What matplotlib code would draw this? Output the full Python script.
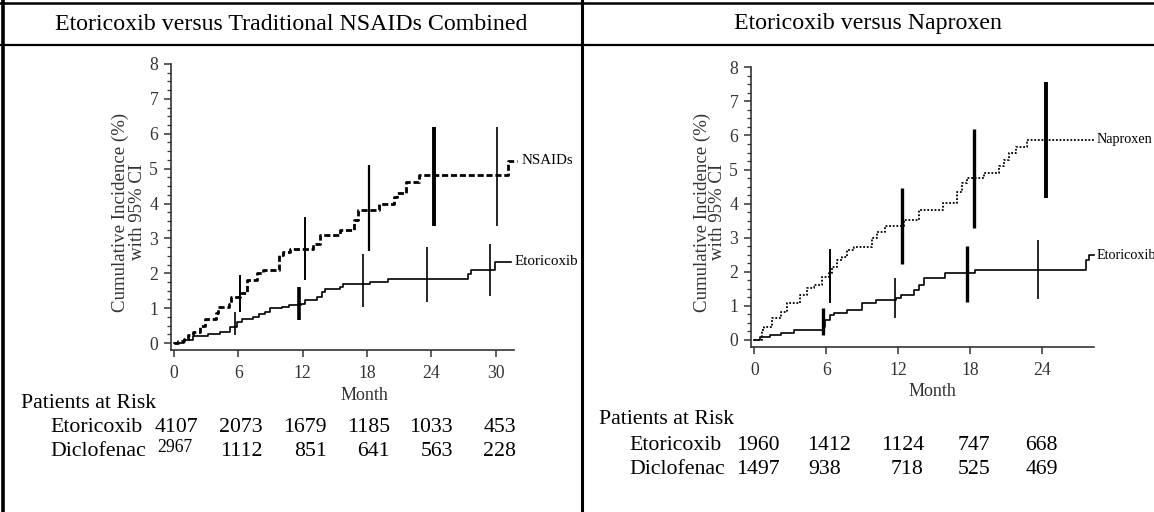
import matplotlib
matplotlib.use("Agg")
import matplotlib.pyplot as plt
from matplotlib.lines import Line2D
from matplotlib.ticker import MultipleLocator

plt.rcParams['font.family'] = ['Liberation Serif', 'DejaVu Serif']

W, H = 1154, 512

# ---------------- data ----------------
panel_titles = ["Etoricoxib versus Traditional NSAIDs Combined", "Etoricoxib versus Naproxen"]
y_label_lines = ["Cumulative Incidence (%)", "with 95% CI"]
x_label = "Month"

left_xticks = [0, 6, 12, 18, 24, 30]
right_xticks = [0, 6, 12, 18, 24]
yticks = [0, 1, 2, 3, 4, 5, 6, 7, 8]

# Left panel: NSAIDs combined (dashed)
nsaid_t = [0, 0.4, 0.9, 1.3, 1.8, 2.4, 2.9, 3.9, 4.1, 5.1, 5.3, 6.2, 6.8, 7.7, 8.3, 9.75, 10.2, 10.8,
           13.0, 13.6, 15.5, 16.8, 17.2, 19.1, 20.5, 20.8, 21.6, 22.8, 31.1, 32.0]
nsaid_v = [0, 0.05, 0.12, 0.22, 0.32, 0.48, 0.70, 0.85, 1.03, 1.13, 1.32, 1.42, 1.80, 2.00, 2.09, 2.52, 2.61, 2.70,
           2.83, 3.09, 3.25, 3.52, 3.81, 3.98, 4.19, 4.29, 4.62, 4.81, 5.22, 5.22]
# Left panel: Etoricoxib (solid)
etoL_t = [0, 0.9, 1.8, 3.2, 4.3, 5.2, 5.9, 6.3, 7.4, 7.9, 8.5, 9.0, 10.1, 10.7, 11.8, 12.2, 13.3, 13.8,
          14.1, 15.5, 15.8, 18.3, 20.0, 27.4, 27.7, 29.9, 31.4]
etoL_v = [0, 0.08, 0.19, 0.27, 0.33, 0.46, 0.60, 0.70, 0.75, 0.84, 0.89, 0.99, 1.03, 1.08, 1.13, 1.22, 1.32, 1.46,
          1.56, 1.61, 1.70, 1.75, 1.85, 1.99, 2.10, 2.33, 2.33]
# Left CIs
nsaid_ci_t = [6.2, 12.2, 18.2, 24.2, 30.1]
nsaid_ci_lo = [0.90, 1.80, 2.63, 3.36, 3.36]
nsaid_ci_hi = [1.95, 3.62, 5.10, 6.20, 6.20]
nsaid_ci_w = [1.4, 1.4, 1.6, 2.8, 1.2]
etoL_ci_t = [5.7, 11.7, 17.6, 23.6, 29.5]
etoL_ci_lo = [0.22, 0.66, 1.03, 1.18, 1.34]
etoL_ci_hi = [0.88, 1.61, 2.55, 2.76, 2.85]
etoL_ci_w = [1.2, 2.6, 1.2, 1.2, 1.2]

# Right panel: Naproxen (dotted)
nap_t = [0, 0.64, 0.8, 1.5, 2.2, 2.7, 3.8, 4.4, 4.95, 5.6, 6.2, 6.5, 6.9, 7.3, 7.7, 8.3, 9.8, 10.2, 10.9,
         12.5, 13.7, 15.7, 16.9, 17.3, 17.7, 19.1, 20.4, 20.8, 21.2, 21.8, 22.7, 28.3]
nap_v = [0, 0.29, 0.39, 0.64, 0.83, 1.08, 1.32, 1.52, 1.61, 1.86, 1.96, 2.15, 2.35, 2.44, 2.64, 2.74, 2.98, 3.18, 3.33,
         3.52, 3.81, 4.01, 4.35, 4.60, 4.74, 4.89, 5.09, 5.28, 5.48, 5.67, 5.87, 5.87]
# Right panel: Etoricoxib (solid)
etoR_t = [0, 0.5, 1.3, 2.2, 3.3, 5.8, 5.9, 6.3, 6.6, 7.7, 9.0, 10.1, 11.8, 12.2, 13.3, 13.7, 14.1, 15.9,
          18.4, 27.6, 27.9, 28.3]
etoR_v = [0, 0.10, 0.15, 0.20, 0.29, 0.39, 0.59, 0.73, 0.78, 0.88, 1.08, 1.17, 1.22, 1.32, 1.47, 1.61, 1.81, 1.96,
          2.05, 2.35, 2.49, 2.49]
# Right CIs
nap_ci_t = [6.3, 12.3, 18.3, 24.3]
nap_ci_lo = [1.08, 2.23, 3.28, 4.16]
nap_ci_hi = [2.66, 4.45, 6.18, 7.58]
nap_ci_w = [1.4, 2.4, 2.4, 2.8]
etoR_ci_t = [5.7, 11.7, 17.7, 23.6]
etoR_ci_lo = [0.15, 0.64, 1.12, 1.19]
etoR_ci_hi = [0.93, 1.81, 2.76, 2.93]
etoR_ci_w = [2.4, 1.2, 2.4, 1.2]

# Patients at risk
risk_title = "Patients at Risk"
risk_rows = ["Etoricoxib", "Diclofenac"]
risk_etoL = ["4107", "2073", "1679", "1185", "1033", "453"]
risk_dicL = ["2967", "1112", "851", "641", "563", "228"]
risk_etoR = ["1960", "1412", "1124", "747", "668"]
risk_dicR = ["1497", "938", "718", "525", "469"]

# ---------------- figure ----------------
fig = plt.figure(figsize=(W / 100, H / 100), dpi=100)


def fx(x):
    return x / W


def fy(y):
    return 1 - y / H


def ftext(x, y, s, size, ha='left', va='center', **kw):
    fig.text(fx(x), fy(y), s, fontsize=size, ha=ha, va=va, **kw)


# table borders
for (x0, y0, x1, y1, lw) in [(0, 3, W, 3, 1.8), (0, 45, W, 45, 1.6), (3, 0, 3, H, 2.6), (582, 0, 582, H, 2.2)]:
    fig.add_artist(Line2D([fx(x0), fx(x1)], [fy(y0), fy(y1)], color='black', lw=lw))

ftext(291, 24, panel_titles[0], 17.2, ha='center')
ftext(868, 24, panel_titles[1], 17.2, ha='center')

axL = fig.add_axes([fx(170.7), fy(350), (514 - 170.7) / W, (350 - 64) / H])
axR = fig.add_axes([fx(750.7), fy(346.8), (1094 - 750.7) / W, (346.8 - 67.3) / H])


def style(ax, xmax, xticks):
    ax.set_xlim(-0.3, xmax)
    ax.set_ylim(-0.2, 8)
    for s in ['top', 'right']:
        ax.spines[s].set_visible(False)
    for s in ['left', 'bottom']:
        ax.spines[s].set_linewidth(1.2)
        ax.spines[s].set_color('#333333')
    ax.set_xticks(xticks)
    ax.set_yticks(yticks)
    ax.yaxis.set_minor_locator(MultipleLocator(0.25))
    ax.tick_params(axis='both', which='major', direction='out', length=5, width=1.1,
                   labelsize=12.7, colors='#333333', pad=4)
    ax.tick_params(axis='y', which='minor', direction='out', length=3, width=0.9, colors='#333333')
    ax.tick_params(axis='x', which='major', pad=6)
    ax.patch.set_alpha(0)


style(axL, 31.7, left_xticks)
style(axR, 28.3, right_xticks)

# curves
axL.step(nsaid_t, nsaid_v, where='post', color='black', lw=2.0, linestyle=(0, (2.2, 1.0)), clip_on=False)
axL.step(etoL_t, etoL_v, where='post', color='black', lw=1.2, clip_on=False)
axL.vlines(nsaid_ci_t, nsaid_ci_lo, nsaid_ci_hi, colors='black', linewidths=nsaid_ci_w)
axL.vlines(etoL_ci_t, etoL_ci_lo, etoL_ci_hi, colors='black', linewidths=etoL_ci_w)

axR.step(nap_t, nap_v, where='post', color='black', lw=1.3, linestyle=(0, (1, 1)), clip_on=False)
axR.step(etoR_t, etoR_v, where='post', color='black', lw=1.2, clip_on=False)
axR.vlines(nap_ci_t, nap_ci_lo, nap_ci_hi, colors='black', linewidths=nap_ci_w)
axR.vlines(etoR_ci_t, etoR_ci_lo, etoR_ci_hi, colors='black', linewidths=etoR_ci_w)

# curve end labels
axL.annotate("NSAIDs", xy=(nsaid_t[-1], nsaid_v[-1]), xytext=(3, 0), textcoords='offset points',
             fontsize=10.8, va='center', ha='left', annotation_clip=False)
axL.annotate("Etoricoxib", xy=(etoL_t[-1], etoL_v[-1]), xytext=(3, 0), textcoords='offset points',
             fontsize=10.8, va='center', ha='left', annotation_clip=False)
axR.annotate("Naproxen", xy=(nap_t[-1], nap_v[-1]), xytext=(2, 0), textcoords='offset points',
             fontsize=10.2, va='center', ha='left', annotation_clip=False)
axR.annotate("Etoricoxib", xy=(etoR_t[-1], etoR_v[-1]), xytext=(2, 0), textcoords='offset points',
             fontsize=10.2, va='center', ha='left', annotation_clip=False)

# y labels (two lines, rotated)
for (xa, xb) in [(120, 138), (702, 718)]:
    ftext(xa, 212, y_label_lines[0], 13.6, ha='center', rotation=90, color='#333333')
    ftext(xb, 212, y_label_lines[1], 13.6, ha='center', rotation=90, color='#333333')

# x labels
ftext(364, 396, x_label, 13.0, ha='center', color='#333333')
ftext(932, 392, x_label, 13.0, ha='center', color='#333333')

# patients at risk - left
ftext(21, 403, risk_title, 15.7)
ftext(50, 428, risk_rows[0], 15.7)
ftext(50, 452, risk_rows[1], 15.7)
left_cols = [198, 263, 327, 390, 453, 516]
for i, (a, b) in enumerate(zip(risk_etoL, risk_dicL)):
    ftext(left_cols[i], 428, a, 15.7, ha='right')
    if i == 0:
        ftext(left_cols[i] - 6, 448, b, 12.7, ha='right')
    else:
        ftext(left_cols[i], 452, b, 15.7, ha='right')

# patients at risk - right
ftext(599, 420, risk_title, 15.7)
ftext(629, 446, risk_rows[0], 15.7)
ftext(629, 470, risk_rows[1], 15.7)
right_cols = [779.5, 851, 924, 990, 1058]
for i, (a, b) in enumerate(zip(risk_etoR, risk_dicR)):
    ftext(right_cols[i], 446, a, 15.7, ha='right')
    ftext(right_cols[i] - (10 if i == 1 else 0), 470, b, 15.7, ha='right')

fig.savefig("out.png", dpi=100)
